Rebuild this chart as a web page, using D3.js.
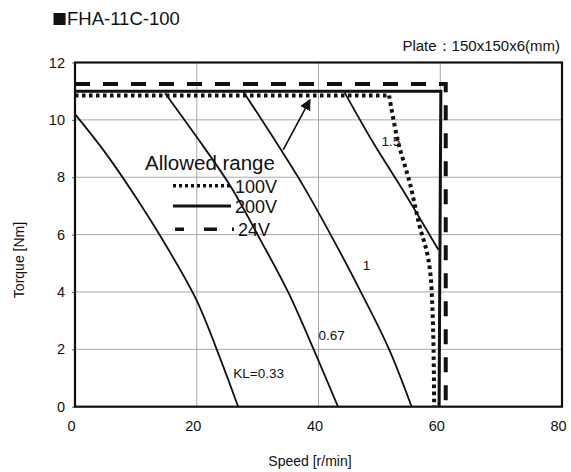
<!DOCTYPE html>
<html><head><meta charset="utf-8">
<script src="https://cdn.jsdelivr.net/npm/d3@7"></script>
<style>
body{margin:0;background:#fff;}
text{font-family:"Liberation Sans",Arial,sans-serif;fill:#111;}
</style></head>
<body>
<svg id="chart" width="571" height="472"></svg>
<script>
// ---- data ----
const xTicks = [0, 20, 40, 60, 80];
const yTicks = [0, 2, 4, 6, 8, 10, 12];
const kl033 = [[0,10.2],[5,8.85],[10,7.3],[15,5.6],[20,3.7],[24,1.6],[26.8,0]];
const kl067 = [[14.8,10.93],[20,9.4],[25.5,7.7],[30.5,5.8],[35,4.0],[39.2,2.0],[43.2,0]];
const kl1   = [[27.6,11],[32.5,9.4],[37.5,7.7],[42.5,5.8],[47.2,3.9],[51.6,2.0],[55.3,0]];
const kl15  = [[44.3,10.95],[49,9.2],[54.3,7.4],[59.7,5.47]];
const v100  = [[0,10.85],[51.6,10.85],[53,9.3],[55,7.8],[56.6,6.3],[57.8,5.4],[58.4,4.6],[58.7,3.5],[58.9,2.0],[59,0]];
const v200  = [[0,11],[60.1,11],[59.8,0]];
const v24   = [[0,11.25],[60.9,11.25],[60.9,0]];
const klLabels = [
  {text:"1.5", x:51.9, y:9.26, anchor:"middle"},
  {text:"1", x:47.9, y:4.94, anchor:"middle"},
  {text:"0.67", x:40.0, y:2.5, anchor:"start"},
  {text:"KL=0.33", x:26.0, y:1.16, anchor:"start"}
];
const arrowFrom = [34.2, 8.95];
const arrowTo = [38.6, 10.7];
const legendItems = ["100V","200V","24V"];

// ---- layout ----
const svg = d3.select("#chart");
const L = 75, R = 562, T = 62.5, B = 406.7;
const x = d3.scaleLinear().domain([0,80]).range([L,R]);
const y = d3.scaleLinear().domain([0,12]).range([B,T]);

// title
const tt = svg.append("text").attr("x",52).attr("y",25).attr("font-size",18.5);
tt.append("tspan").style("font-family","'Noto Sans CJK JP'").attr("font-size",15).text("■");
tt.append("tspan").text("FHA-11C-100");
svg.append("text").attr("x",560).attr("y",51).attr("font-size",15).attr("text-anchor","end").text("Plate：150x150x6(mm)");

// grid
const g = svg.append("g");
g.selectAll(".gx").data(xTicks.filter(d=>d>0&&d<80)).enter().append("line")
  .attr("x1",d=>x(d)).attr("x2",d=>x(d)).attr("y1",T).attr("y2",B)
  .attr("stroke","#a8a8a8").attr("stroke-width",1);
g.selectAll(".gy").data(yTicks.filter(d=>d>0&&d<12)).enter().append("line")
  .attr("y1",d=>y(d)).attr("y2",d=>y(d)).attr("x1",L).attr("x2",R)
  .attr("stroke","#a8a8a8").attr("stroke-width",1);

// axes
const xAxis = svg.append("g").attr("transform",`translate(0,${B})`)
  .call(d3.axisBottom(x).tickValues(xTicks).tickSize(0).tickPadding(14));
xAxis.select(".domain").remove();
xAxis.selectAll("text").attr("font-size",14.5).attr("dx",-4).style("font-family","Liberation Sans, Arial, sans-serif").attr("fill","#111");
const yAxis = svg.append("g").attr("transform",`translate(${L},0)`)
  .call(d3.axisLeft(y).tickValues(yTicks).tickSize(3).tickPadding(7));
yAxis.select(".domain").remove();
yAxis.selectAll("line").attr("stroke","#666");
yAxis.selectAll("text").attr("font-size",14.5).style("font-family","Liberation Sans, Arial, sans-serif").attr("fill","#111");

// axis titles
svg.append("text").attr("x",310).attr("y",466).attr("font-size",14).attr("text-anchor","middle").text("Speed [r/min]");
svg.append("text").attr("transform","translate(24,260) rotate(-90)").attr("font-size",14).attr("text-anchor","middle").text("Torque [Nm]");

// curves
const line = d3.line().x(d=>x(d[0])).y(d=>y(d[1]));
const smooth = d3.line().x(d=>x(d[0])).y(d=>y(d[1])).curve(d3.curveCatmullRom.alpha(0.5));
[kl033,kl067,kl1,kl15].forEach(c=>{
  svg.append("path").attr("d",smooth(c)).attr("fill","none").attr("stroke","#111").attr("stroke-width",1.8);
});
svg.append("path").attr("d",line(v24)).attr("fill","none").attr("stroke","#111").attr("stroke-width",4).attr("stroke-dasharray","15,13");
svg.append("path").attr("d",smooth(v100.slice(1))).attr("fill","none").attr("stroke","#111").attr("stroke-width",4).attr("stroke-dasharray","3.5,3.5");
svg.append("path").attr("d",line(v100.slice(0,2))).attr("fill","none").attr("stroke","#111").attr("stroke-width",4).attr("stroke-dasharray","3.5,3.5");
svg.append("path").attr("d",line(v200)).attr("fill","none").attr("stroke","#111").attr("stroke-width",3);

// frame
svg.append("rect").attr("x",L).attr("y",T).attr("width",R-L).attr("height",B-T)
  .attr("fill","none").attr("stroke","#111").attr("stroke-width",2.2);

// KL labels
svg.selectAll(".kl").data(klLabels).enter().append("text")
  .attr("x",d=>x(d.x)).attr("y",d=>y(d.y)).attr("dy","0.35em")
  .attr("text-anchor",d=>d.anchor).attr("font-size",13.5).text(d=>d.text);

// arrow
svg.append("defs").append("marker").attr("id","ah").attr("viewBox","0 0 10 10")
  .attr("refX",9).attr("refY",5).attr("markerWidth",7).attr("markerHeight",7)
  .attr("orient","auto").append("path").attr("d","M0,0L10,5L0,10z").attr("fill","#111");
svg.append("line").attr("x1",x(arrowFrom[0])).attr("y1",y(arrowFrom[1]))
  .attr("x2",x(arrowTo[0])).attr("y2",y(arrowTo[1]))
  .attr("stroke","#111").attr("stroke-width",1.6).attr("marker-end","url(#ah)");

// legend
svg.append("text").attr("x",145).attr("y",170).attr("font-size",20.5).text("Allowed range");
const legY = [185.7, 206, 229.3];
const legStyle = [
  {w:3.5, dash:"3,3"},
  {w:3, dash:null},
  {w:3.5, dash:"9,20,13,15,2"}
];
legendItems.forEach((t,i)=>{
  const s = legStyle[i];
  const ln = svg.append("line").attr("x1",i===2?175:173).attr("x2",i===2?236:231)
    .attr("y1",legY[i]).attr("y2",legY[i]).attr("stroke","#111").attr("stroke-width",s.w);
  if (s.dash) ln.attr("stroke-dasharray",s.dash);
  svg.append("text").attr("x",i===2?238:235).attr("y",legY[i]+7).attr("font-size",18).text(t);
});
</script>
</body></html>
